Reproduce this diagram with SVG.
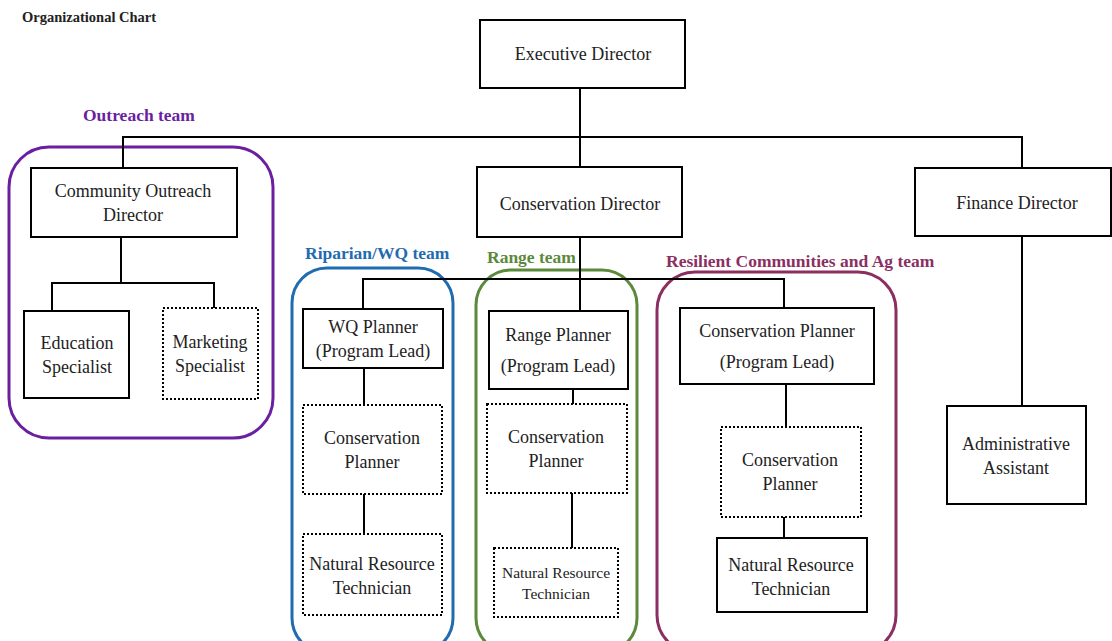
<svg xmlns="http://www.w3.org/2000/svg" width="1112" height="641" viewBox="0 0 1112 641">
<style>
.box{fill:#fff;stroke:#000;stroke-width:2}
.dot{fill:#fff;stroke:#000;stroke-width:2;stroke-dasharray:2 2}
.t{font-family:"Liberation Serif","Times New Roman",serif;font-size:18px;fill:#222;text-anchor:middle}
.s{font-size:15.5px}
.lab{font-family:"Liberation Serif","Times New Roman",serif;font-size:17.5px;font-weight:bold}
.frame{fill:none;stroke-width:3}
.conn line,.conn path{stroke:#000;stroke-width:2;fill:none}
</style>
<rect width="1112" height="641" fill="#fff"/>
<text x="22" y="22" font-family="'Liberation Serif','Times New Roman',serif" font-size="14.5" font-weight="bold" fill="#222">Organizational Chart</text>

<g id="frames">
<rect id="outreach-team" class="frame" x="9" y="147" width="264" height="291" rx="40" stroke="#6a1fa0"/>
<text class="lab" x="83" y="121" fill="#6a1fa0">Outreach team</text>
<rect id="riparian-team" class="frame" x="292" y="268" width="161" height="385" rx="35" stroke="#1f6cb0"/>
<text class="lab" x="305" y="259" fill="#1f6cb0">Riparian/WQ team</text>
<rect id="range-team" class="frame" x="476" y="270" width="161" height="383" rx="35" stroke="#5b8a3c"/>
<text class="lab" x="487" y="263" fill="#5b8a3c">Range team</text>
<rect id="rc-team" class="frame" x="657" y="272" width="239" height="381" rx="38" stroke="#8b2f63"/>
<text class="lab" x="666" y="267" fill="#8b2f63">Resilient Communities and Ag team</text>
</g>

<g class="conn" id="connectors">
<line x1="580" y1="88" x2="580" y2="167"/>
<path d="M123 168 V137 H1022 V168"/>
<path d="M121 237 V283"/>
<path d="M52 311 V283 H214 V308"/>
<line x1="580" y1="237" x2="580" y2="311"/>
<path d="M363 309 V279 H784 V308"/>
<line x1="364" y1="368" x2="364" y2="405"/>
<line x1="364" y1="494" x2="364" y2="534"/>
<line x1="573" y1="389" x2="573" y2="404"/>
<line x1="572" y1="493" x2="572" y2="548"/>
<line x1="786" y1="384" x2="786" y2="427"/>
<line x1="784" y1="517" x2="784" y2="538"/>
<line x1="1022" y1="237" x2="1022" y2="406"/>
</g>

<g id="executive-director"><rect class="box" x="480" y="20" width="205" height="68"/><text class="t" x="583" y="60">Executive Director</text></g>
<g id="community-outreach-director"><rect class="box" x="31" y="168" width="206" height="69"/><text class="t" x="133" y="197">Community Outreach</text><text class="t" x="133" y="221">Director</text></g>
<g id="education-specialist"><rect class="box" x="24" y="311" width="105" height="87"/><text class="t" x="77" y="349">Education</text><text class="t" x="77" y="373">Specialist</text></g>
<g id="marketing-specialist"><rect class="dot" x="163" y="308" width="95" height="91"/><text class="t" x="210" y="348">Marketing</text><text class="t" x="210" y="372">Specialist</text></g>
<g id="conservation-director"><rect class="box" x="477" y="167" width="205" height="70"/><text class="t" x="580" y="210">Conservation  Director</text></g>
<g id="finance-director"><rect class="box" x="915" y="168" width="196" height="68"/><text class="t" x="1017" y="209">Finance Director</text></g>
<g id="administrative-assistant"><rect class="box" x="947" y="406" width="139" height="98"/><text class="t" x="1016" y="450">Administrative</text><text class="t" x="1016" y="474">Assistant</text></g>

<g id="wq-planner"><rect class="box" x="303" y="309" width="140" height="59"/><text class="t" x="373" y="333">WQ Planner</text><text class="t" x="373" y="357">(Program Lead)</text></g>
<g id="wq-conservation-planner"><rect class="dot" x="303" y="405" width="139" height="89"/><text class="t" x="372" y="444">Conservation</text><text class="t" x="372" y="468">Planner</text></g>
<g id="wq-technician"><rect class="dot" x="303" y="534" width="139" height="81"/><text class="t" x="372" y="570">Natural Resource</text><text class="t" x="372" y="594">Technician</text></g>

<g id="range-planner"><rect class="box" x="489" y="311" width="139" height="78"/><text class="t" x="558" y="341">Range Planner</text><text class="t" x="558" y="372">(Program Lead)</text></g>
<g id="range-conservation-planner"><rect class="dot" x="487" y="404" width="140" height="89"/><text class="t" x="556" y="443">Conservation</text><text class="t" x="556" y="467">Planner</text></g>
<g id="range-technician"><rect class="dot" x="494" y="548" width="124" height="69"/><text class="t s" x="556" y="578">Natural Resource</text><text class="t s" x="556" y="599">Technician</text></g>

<g id="rc-conservation-planner-lead"><rect class="box" x="680" y="308" width="194" height="76"/><text class="t" x="777" y="337">Conservation Planner</text><text class="t" x="777" y="368">(Program Lead)</text></g>
<g id="rc-conservation-planner"><rect class="dot" x="721" y="427" width="140" height="90"/><text class="t" x="790" y="466">Conservation</text><text class="t" x="790" y="490">Planner</text></g>
<g id="rc-technician"><rect class="box" x="717" y="538" width="150" height="74"/><text class="t" x="791" y="571">Natural Resource</text><text class="t" x="791" y="595">Technician</text></g>
</svg>
